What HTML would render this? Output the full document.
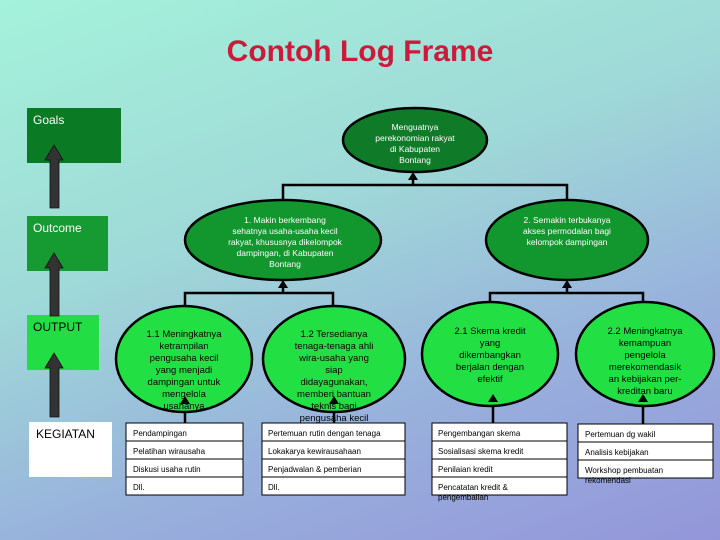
<!DOCTYPE html>
<html><head><meta charset="utf-8"><style>
html,body{margin:0;padding:0;}
body{width:720px;height:540px;overflow:hidden;background:linear-gradient(160deg,#a4f2da 0%,#9fd8d8 40%,#98b0dc 70%,#9496da 100%);}
svg{display:block;font-family:"Liberation Sans",Arial,sans-serif;}
</style></head><body>
<svg width="720" height="540" viewBox="0 0 720 540" xmlns="http://www.w3.org/2000/svg">
<text x="360" y="61" text-anchor="middle" font-size="30" font-weight="bold" fill="#cc1a3a">Contoh Log Frame</text>

<!-- left labels -->
<rect x="27" y="108" width="94" height="55" fill="#0b7a25"/>
<text x="33" y="124" font-size="12" fill="#fff">Goals</text>
<rect x="27" y="216" width="81" height="55" fill="#169a32"/>
<text x="33" y="232" font-size="12" fill="#fff">Outcome</text>
<rect x="27" y="315" width="72" height="55" fill="#22dd44"/>
<text x="33" y="331" font-size="12" fill="#000">OUTPUT</text>
<rect x="29" y="422" width="83" height="55" fill="#fff"/>
<text x="36" y="438" font-size="12" fill="#000">KEGIATAN</text>

<g fill="#333" stroke="#111" stroke-width="0.8">
<polygon points="54,145 63,160 59,160 59,208 50,208 50,160 45,160"/>
<polygon points="54,253 63,268 59,268 59,316 50,316 50,268 45,268"/>
<polygon points="54,353 63,368 59,368 59,417 50,417 50,368 45,368"/>
</g>

<!-- connectors -->
<g stroke="#000" stroke-width="2.5" fill="none">
<polyline points="283,199 283,185 567,185 567,199"/>
<line x1="413" y1="185" x2="413" y2="176"/>
<polyline points="185,307 185,293 333,293 333,307"/>
<line x1="283" y1="293" x2="283" y2="284"/>
<polyline points="490,303 490,293 643,293 643,303"/>
<line x1="567" y1="293" x2="567" y2="284"/>
<line x1="185" y1="423" x2="185" y2="402"/>
<line x1="334" y1="423" x2="334" y2="402"/>
<line x1="493" y1="423" x2="493" y2="400"/>
<line x1="643" y1="424" x2="643" y2="400"/>
</g>

<!-- ellipses -->
<g stroke="#000" stroke-width="2.5">
<ellipse cx="415" cy="140" rx="72" ry="32" fill="#0f7a28"/>
<ellipse cx="283" cy="240" rx="98" ry="40" fill="#12962e"/>
<ellipse cx="567" cy="240" rx="81" ry="40" fill="#12962e"/>
<ellipse cx="184" cy="359" rx="68" ry="53" fill="#22e044"/>
<ellipse cx="334" cy="359" rx="71" ry="53" fill="#22e044"/>
<ellipse cx="490" cy="354" rx="68" ry="52" fill="#22e044"/>
<ellipse cx="645" cy="354" rx="69" ry="52" fill="#22e044"/>
</g>
<g fill="#000">
<polygon points="413,172 418,180 408,180"/>
<polygon points="283,280 288,288 278,288"/>
<polygon points="567,280 572,288 562,288"/>
<polygon points="185,396 190,404 180,404"/>
<polygon points="334,396 339,404 329,404"/>
<polygon points="493,394 498,402 488,402"/>
<polygon points="643,394 648,402 638,402"/>
</g>

<g font-size="8.5" fill="#fff" text-anchor="middle">
<text x="415" y="130">Menguatnya</text>
<text x="415" y="141">perekonomian rakyat</text>
<text x="415" y="152">di Kabupaten</text>
<text x="415" y="163">Bontang</text>
<text x="285" y="223">1.  Makin berkembang</text>
<text x="285" y="234">sehatnya usaha-usaha kecil</text>
<text x="285" y="245">rakyat, khususnya dikelompok</text>
<text x="285" y="256">dampingan, di Kabupaten</text>
<text x="285" y="267">Bontang</text>
<text x="567" y="223">2.  Semakin terbukanya</text>
<text x="567" y="234">akses permodalan bagi</text>
<text x="567" y="245">kelompok dampingan</text>
</g>

<g font-size="9.5" fill="#000" text-anchor="middle">
<text x="184" y="337">1.1  Meningkatnya</text>
<text x="184" y="349">ketrampilan</text>
<text x="184" y="361">pengusaha kecil</text>
<text x="184" y="373">yang menjadi</text>
<text x="184" y="385">dampingan untuk</text>
<text x="184" y="397">mengelola</text>
<text x="184" y="409">usahanya</text>
<text x="334" y="337">1.2  Tersedianya</text>
<text x="334" y="349">tenaga-tenaga ahli</text>
<text x="334" y="361">wira-usaha yang</text>
<text x="334" y="373">siap</text>
<text x="334" y="385">didayagunakan,</text>
<text x="334" y="397">memberi bantuan</text>
<text x="334" y="409">teknis bagi</text>
<text x="334" y="421">pengusaha kecil</text>
<text x="490" y="334">2.1  Skema kredit</text>
<text x="490" y="346">yang</text>
<text x="490" y="358">dikembangkan</text>
<text x="490" y="370">berjalan dengan</text>
<text x="490" y="382">efektif</text>
<text x="645" y="334">2.2  Meningkatnya</text>
<text x="645" y="346">kemampuan</text>
<text x="645" y="358">pengelola</text>
<text x="645" y="370">merekomendasik</text>
<text x="645" y="382">an kebijakan per-</text>
<text x="645" y="394">kreditan baru</text>
</g>

<!-- activity tables -->
<g fill="#fff" stroke="#000" stroke-width="1">
<rect x="126" y="423" width="117" height="18"/><rect x="126" y="441" width="117" height="18"/><rect x="126" y="459" width="117" height="18"/><rect x="126" y="477" width="117" height="18"/>
<rect x="262" y="423" width="143" height="18"/><rect x="262" y="441" width="143" height="18"/><rect x="262" y="459" width="143" height="18"/><rect x="262" y="477" width="143" height="18"/>
<rect x="432" y="423" width="135" height="18"/><rect x="432" y="441" width="135" height="18"/><rect x="432" y="459" width="135" height="18"/><rect x="432" y="477" width="135" height="18"/>
<rect x="578" y="424" width="135" height="18"/><rect x="578" y="442" width="135" height="18"/><rect x="578" y="460" width="135" height="18"/>
</g>
<g font-size="8" fill="#000">
<text x="133" y="436">Pendampingan</text>
<text x="133" y="454">Pelatihan wirausaha</text>
<text x="133" y="472">Diskusi usaha rutin</text>
<text x="133" y="490">Dll.</text>
<text x="268" y="436">Pertemuan rutin dengan tenaga</text>
<text x="268" y="454">Lokakarya kewirausahaan</text>
<text x="268" y="472">Penjadwalan &amp; pemberian</text>
<text x="268" y="490">Dll.</text>
<text x="438" y="436">Pengembangan skema</text>
<text x="438" y="454">Sosialisasi skema kredit</text>
<text x="438" y="472">Penilaian kredit</text>
<text x="438" y="490">Pencatatan kredit &amp;</text>
<text x="438" y="500">pengembalian</text>
<text x="585" y="437">Pertemuan dg wakil</text>
<text x="585" y="455">Analisis kebijakan</text>
<text x="585" y="473">Workshop pembuatan</text>
<text x="585" y="483">rekomendasi</text>
</g>
</svg>
</body></html>
